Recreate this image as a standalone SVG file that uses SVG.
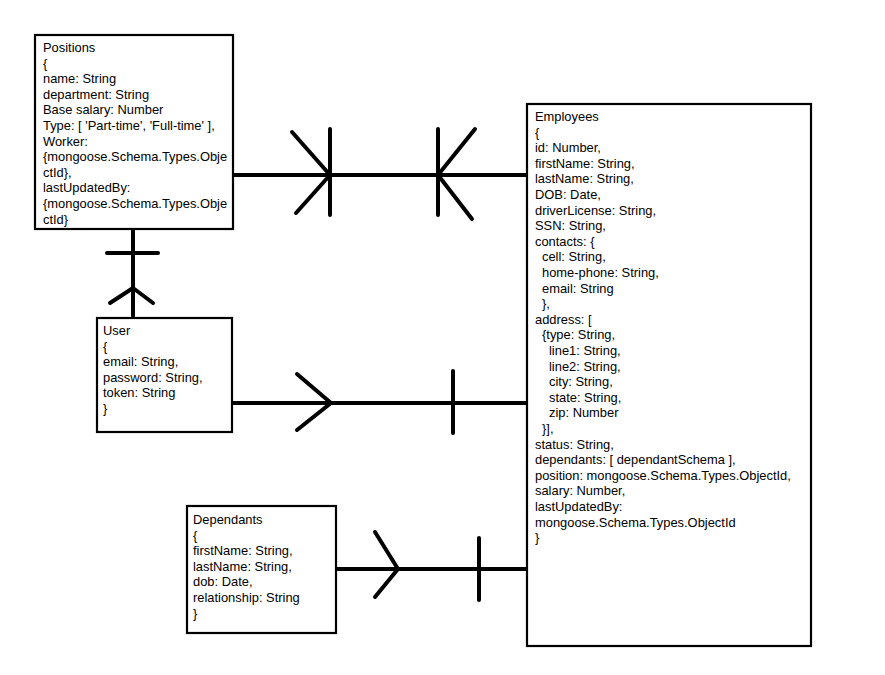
<svg xmlns="http://www.w3.org/2000/svg" width="885" height="675" viewBox="0 0 885 675">
<style>
.box{fill:#fff;stroke:#000;stroke-width:2.2}
.t{font-family:"Liberation Sans",Arial,sans-serif;font-size:12.9px;fill:#000}
.c{stroke:#000;stroke-width:4;fill:none;stroke-linecap:round;stroke-linejoin:round}
</style>
<rect width="885" height="675" fill="#fff"/>
<g id="connectors">
<line class="c" x1="234" y1="175" x2="527" y2="175"/>
<line class="c" x1="330" y1="129" x2="330" y2="215"/>
<polyline class="c" points="292,132 330,175 296,213"/>
<line class="c" x1="438" y1="129" x2="438" y2="215"/>
<polyline class="c" points="475,129 438,175 472,219"/>
<line class="c" x1="133" y1="230" x2="133" y2="316"/>
<line class="c" x1="107" y1="253" x2="158" y2="253"/>
<polyline class="c" points="110,303 133,288 153,303"/>
<line class="c" x1="232" y1="403" x2="527" y2="403"/>
<polyline class="c" points="297,374 331,403 297,430"/>
<line class="c" x1="453" y1="371" x2="453" y2="433"/>
<line class="c" x1="334" y1="569" x2="527" y2="569"/>
<polyline class="c" points="375,532 398,569 375,597"/>
<line class="c" x1="479" y1="538" x2="479" y2="600"/>
</g>
<g id="positions">
<rect class="box" x="35" y="35" width="198" height="194"/>
<text class="t" x="43" y="52">Positions</text>
<text class="t" x="43" y="67.6">{</text>
<text class="t" x="43" y="83.2">name: String</text>
<text class="t" x="43" y="98.8">department: String</text>
<text class="t" x="43" y="114.4">Base salary: Number</text>
<text class="t" x="43" y="130">Type: [ 'Part-time', 'Full-time' ],</text>
<text class="t" x="43" y="145.6">Worker:</text>
<text class="t" x="43" y="161.2">{mongoose.Schema.Types.Obje</text>
<text class="t" x="43" y="176.8">ctId},</text>
<text class="t" x="43" y="192.4">lastUpdatedBy:</text>
<text class="t" x="43" y="208">{mongoose.Schema.Types.Obje</text>
<text class="t" x="43" y="223.6">ctId}</text>
</g>
<g id="employees">
<rect class="box" x="527" y="104" width="284" height="542"/>
<text class="t" x="535" y="121">Employees</text>
<text class="t" x="535" y="136.6">{</text>
<text class="t" x="535" y="152.2">id: Number,</text>
<text class="t" x="535" y="167.8">firstName: String,</text>
<text class="t" x="535" y="183.4">lastName: String,</text>
<text class="t" x="535" y="199">DOB: Date,</text>
<text class="t" x="535" y="214.6">driverLicense: String,</text>
<text class="t" x="535" y="230.2">SSN: String,</text>
<text class="t" x="535" y="245.8">contacts: {</text>
<text class="t" x="542" y="261.4">cell: String,</text>
<text class="t" x="542" y="277">home-phone: String,</text>
<text class="t" x="542" y="292.6">email: String</text>
<text class="t" x="542" y="308.2">},</text>
<text class="t" x="535" y="323.8">address: [</text>
<text class="t" x="542" y="339.4">{type: String,</text>
<text class="t" x="549" y="355">line1: String,</text>
<text class="t" x="549" y="370.6">line2: String,</text>
<text class="t" x="549" y="386.2">city: String,</text>
<text class="t" x="549" y="401.8">state: String,</text>
<text class="t" x="549" y="417.4">zip: Number</text>
<text class="t" x="542" y="433">}],</text>
<text class="t" x="535" y="448.6">status: String,</text>
<text class="t" x="535" y="464.2">dependants: [ dependantSchema ],</text>
<text class="t" x="535" y="479.8">position: mongoose.Schema.Types.ObjectId,</text>
<text class="t" x="535" y="495.4">salary: Number,</text>
<text class="t" x="535" y="511">lastUpdatedBy:</text>
<text class="t" x="535" y="526.6">mongoose.Schema.Types.ObjectId</text>
<text class="t" x="535" y="542.2">}</text>
</g>
<g id="user">
<rect class="box" x="97" y="318" width="135" height="114"/>
<text class="t" x="103" y="335">User</text>
<text class="t" x="103" y="350.6">{</text>
<text class="t" x="103" y="366.2">email: String,</text>
<text class="t" x="103" y="381.8">password: String,</text>
<text class="t" x="103" y="397.4">token: String</text>
<text class="t" x="103" y="413">}</text>
</g>
<g id="dependants">
<rect class="box" x="187" y="506" width="149" height="127"/>
<text class="t" x="193" y="524">Dependants</text>
<text class="t" x="193" y="539.6">{</text>
<text class="t" x="193" y="555.2">firstName: String,</text>
<text class="t" x="193" y="570.8">lastName: String,</text>
<text class="t" x="193" y="586.4">dob: Date,</text>
<text class="t" x="193" y="602">relationship: String</text>
<text class="t" x="193" y="617.6">}</text>
</g>
</svg>
